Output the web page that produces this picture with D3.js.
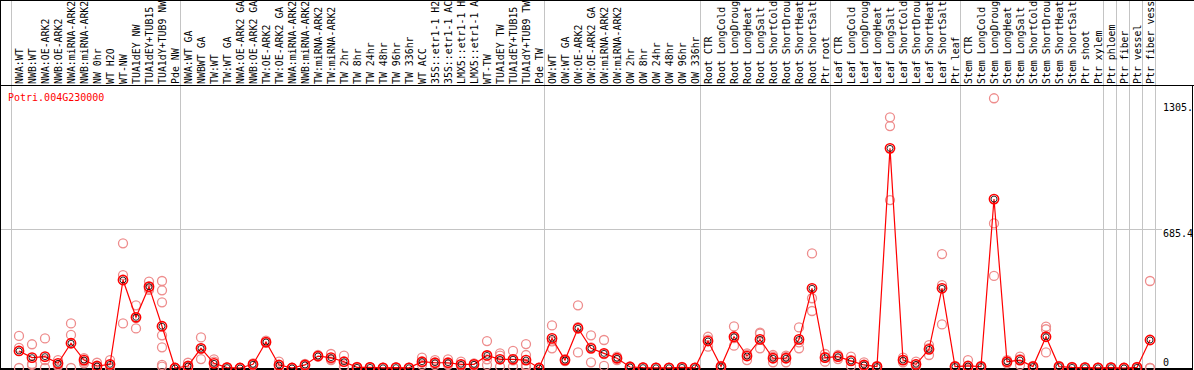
<!DOCTYPE html>
<html>
<head>
<meta charset="utf-8">
<script src="https://cdn.jsdelivr.net/npm/d3@7"></script>
<style>
  body { margin: 0; background: #fff; }
  svg { display: block; }
  text { font-family: "DejaVu Sans Mono", "Liberation Mono", monospace; font-size: 10px; }
</style>
</head>
<body>
<div id="chart"></div>
<script>
var geneName = "Potri.004G230000";

var samples = [
  "NWA:WT", "NWB:WT", "NWA:OE-ARK2", "NWB:OE-ARK2", "NWA:miRNA-ARK2", "NWB:miRNA-ARK2",
  "NW 0hr", "WT H2O", "WT-NW", "TUA1dEY NW", "TUA1dEY+TUB15", "TUA1dY+TUB9 NW", "Pde NW",
  "NWA:WT GA", "NWBWT GA", "TW:WT", "TW:WT GA", "NWA:OE-ARK2 GA", "NWB:OE-ARK2 GA",
  "TW:OE-ARK2", "TW:OE-ARK2 GA", "NWA:miRNA-ARK2", "NWB:miRNA-ARK2", "TW:miRNA-ARK2",
  "TW:miRNA-ARK2", "TW 2hr", "TW 8hr", "TW 24hr", "TW 48hr", "TW 96hr", "TW 336hr",
  "WT ACC", "35S::etr1-1 H2O", "35S::etr1-1 ACC", "LMX5::etr1-1 H2O", "LMX5::etr1-1 ACC",
  "WT-TW", "TUA1dEY TW", "TUA1dEY+TUB15", "TUA1dY+TUB9 TW", "Pde TW",
  "OW:WT", "OW:WT GA", "OW:OE-ARK2", "OW:OE-ARK2 GA", "OW:miRNA-ARK2", "OW:miRNA-ARK2",
  "OW 2hr", "OW 8hr", "OW 24hr", "OW 48hr", "OW 96hr", "OW 336hr",
  "Root CTR", "Root LongCold", "Root LongDrought", "Root LongHeat", "Root LongSalt",
  "Root ShortCold", "Root ShortDrought", "Root ShortHeat", "Root ShortSalt", "Ptr root",
  "Leaf CTR", "Leaf LongCold", "Leaf LongDrought", "Leaf LongHeat", "Leaf LongSalt",
  "Leaf ShortCold", "Leaf ShortDrought", "Leaf ShortHeat", "Leaf ShortSalt", "Ptr leaf",
  "Stem CTR", "Stem LongCold", "Stem LongDrought", "Stem LongHeat", "Stem LongSalt",
  "Stem ShortCold", "Stem ShortDrought", "Stem ShortHeat", "Stem ShortSalt", "Ptr shoot",
  "Ptr xylem", "Ptr phloem", "Ptr fiber", "Ptr vessel", "Ptr fiber vessel"
];

// index of the first sample in each group
var groupStarts = [0, 13, 41, 53, 63, 73, 84, 85, 86, 87, 88];

var means = [
  84, 51, 56, 23, 122, 39, 10, 18, 434, 250, 401, 206, 0,
  10, 97, 23, 2, 0, 18, 128, 15, 0, 15, 59, 51, 31, 3, 3, 1, 2, 1, 31, 26, 26, 18, 18, 62, 43, 43, 39, 0,
  146, 39, 196, 97, 72, 48, 5, 2, 1, 1, 3, 1,
  133, 7, 154, 59, 141, 48, 48, 141, 393, 51,
  56, 35, 15, 7, 1083, 39, 18, 92, 393, 7,
  10, 7, 833, 31, 39, 7, 154, 7, 3, 2, 1,
  2, 0, 3, 138
];

var replicates = [
  [158, 99, 0], [117, 20, 15], [146, 39, 0], [39, 15, 10], [220, 163, 0], [48, 31, 23],
  [26, 7, 0], [39, 15, 0], [615, 458, 220], [309, 246, 195], [426, 392, 385],
  [429, 383, 324, 161, 102, 15, 7], [0, 0, 0],
  [26, 5, 0], [151, 96, 44], [43, 31, 0], [3, 2, 0], [0, 0, 0], [23, 15, 15], [135, 125, 124],
  [31, 7, 0], [0, 0, 0], [20, 15, 10], [64, 59, 56], [69, 44, 39], [61, 7, 0], [5, 3, 0],
  [4, 3, 2], [2, 1, 0], [3, 2, 1], [2, 1, 0], [51, 26, 15], [39, 24, 15], [43, 20, 15],
  [31, 15, 7], [23, 18, 12], [133, 43, 15], [72, 61, 7], [84, 38, 7], [118, 64, 15, 10, 5], [0, 0, 0],
  [210, 131, 97], [44, 39, 34], [309, 202, 77], [161, 102, 28], [138, 68, 10], [56, 48, 39],
  [8, 5, 2], [3, 2, 1], [2, 1, 0], [1, 1, 0], [5, 3, 1], [1, 1, 0],
  [154, 140, 105], [10, 7, 4], [205, 147, 110], [72, 66, 39], [174, 170, 97], [64, 56, 28],
  [61, 55, 28], [200, 126, 97], [565, 344, 281], [69, 55, 31],
  [64, 60, 44], [56, 39, 10], [28, 10, 7], [10, 7, 4], [1236, 1193, 828], [51, 39, 28],
  [31, 18, 7], [113, 98, 64], [562, 409, 215], [10, 7, 4],
  [39, 0, 0], [10, 7, 4], [1330, 713, 454], [39, 31, 23], [56, 44, 15], [10, 7, 4],
  [204, 191, 77], [10, 7, 4], [5, 3, 1], [3, 2, 1], [2, 1, 0],
  [3, 2, 1], [0, 0, 0], [5, 3, 1], [429, 0, 0]
];

var yMax = 1370.8;
var tickValues = [0, 685.4, 1305];
var tickLabels = ["0", "685.4", "1305."];
var labelChars = 14;   // header labels are cut to this many characters

var width = 1194, height = 370,
    headerBottom = 85.5, plotBottom = 368;

var svg = d3.select("#chart")
    .append("svg")
    .attr("width", width)
    .attr("height", height);

var xScale = d3.scaleBand()
    .domain(d3.range(samples.length))
    .range([11, 1155]);

var yScale = d3.scaleLinear()
    .domain([0, yMax])
    .range([plotBottom, 90]);

function cx(i) { return xScale(i) + 8; }

// group separators (header and plot)
svg.selectAll(".sep")
    .data(groupStarts)
    .enter().append("line")
    .attr("class", "sep")
    .attr("x1", function (d) { return (d < samples.length ? xScale(d) : xScale.range()[1]) + 0.5; })
    .attr("x2", function (d) { return (d < samples.length ? xScale(d) : xScale.range()[1]) + 0.5; })
    .attr("y1", 0)
    .attr("y2", height)
    .attr("stroke", "#c4c4c4");

// middle gridline
svg.append("line")
    .attr("x1", 1)
    .attr("x2", 1162)
    .attr("y1", Math.round(yScale(tickValues[1])) + 0.5)
    .attr("y2", Math.round(yScale(tickValues[1])) + 0.5)
    .attr("stroke", "#c4c4c4");

// frame
svg.append("line").attr("x1", 0).attr("x2", width).attr("y1", 0.5).attr("y2", 0.5).attr("stroke", "#000");
svg.append("line").attr("x1", 0).attr("x2", width).attr("y1", headerBottom).attr("y2", headerBottom).attr("stroke", "#000");
svg.append("line").attr("x1", 0.5).attr("x2", 0.5).attr("y1", 0).attr("y2", height).attr("stroke", "#000");
svg.append("line").attr("x1", 1192.5).attr("x2", 1192.5).attr("y1", headerBottom).attr("y2", height).attr("stroke", "#000");
svg.append("line").attr("x1", 0).attr("x2", 1193).attr("y1", 369).attr("y2", 369).attr("stroke", "#000").attr("stroke-width", 2);

// sample labels, rotated
svg.selectAll(".label")
    .data(samples)
    .enter().append("text")
    .attr("class", "label")
    .attr("transform", function (d, i) { return "translate(" + (cx(i) + 4) + ",84)rotate(-90)"; })
    .style("font-size", "9.9px")
    .attr("fill", "#000")
    .text(function (d) { return d.slice(0, labelChars); });

// gene title
svg.append("text")
    .attr("x", 8)
    .attr("y", 101)
    .attr("fill", "#ff0000")
    .text(geneName);

// value labels on the right
svg.selectAll(".tick-label")
    .data(tickValues)
    .enter().append("text")
    .attr("class", "tick-label")
    .attr("x", 1163)
    .attr("y", function (d) { return Math.min(yScale(d) + 8, 366); })
    .attr("fill", "#000")
    .text(function (d, i) { return tickLabels[i]; });

// replicate points
var repData = [];
replicates.forEach(function (reps, i) {
    reps.forEach(function (v) { repData.push({ i: i, v: v }); });
});

svg.selectAll(".rep")
    .data(repData)
    .enter().append("circle")
    .attr("class", "rep")
    .attr("cx", function (d) { return cx(d.i); })
    .attr("cy", function (d) { return yScale(d.v); })
    .attr("r", 4.5)
    .attr("fill", "none")
    .attr("stroke", "#ee8c8c")
    .attr("stroke-width", 1.3);

// mean line
var line = d3.line()
    .x(function (d, i) { return cx(i); })
    .y(function (d) { return yScale(d); });

svg.append("path")
    .datum(means)
    .attr("d", line)
    .attr("fill", "none")
    .attr("stroke", "#ff0000")
    .attr("stroke-width", 1.2);

// mean points
var meanG = svg.selectAll(".mean")
    .data(means)
    .enter().append("g")
    .attr("class", "mean")
    .attr("transform", function (d, i) { return "translate(" + cx(i) + "," + yScale(d) + ")"; });

meanG.append("circle")
    .attr("r", 4.6)
    .attr("fill", "none")
    .attr("stroke", "#ff0000")
    .attr("stroke-width", 1.6);

meanG.append("circle")
    .attr("r", 3)
    .attr("fill", "none")
    .attr("stroke", "#000")
    .attr("stroke-width", 0.8);
</script>
</body>
</html>
